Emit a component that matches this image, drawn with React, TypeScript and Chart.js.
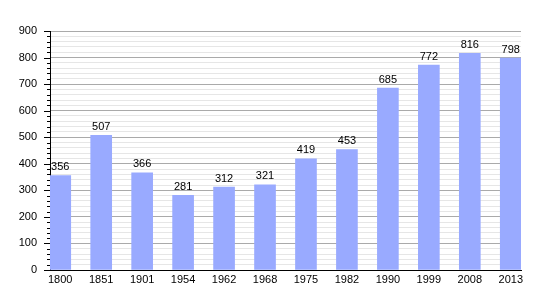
import React, { useEffect, useRef } from "react";
import { Chart, registerables } from "chart.js";

Chart.register(...registerables);

const years = ["1800", "1851", "1901", "1954", "1962", "1968", "1975", "1982", "1990", "1999", "2008", "2013"];
const population = [356, 507, 366, 281, 312, 321, 419, 453, 685, 772, 816, 798];
const yMax = 900;
const yMajorStep = 100;
const yMinorStep = 20;

const FONT = "'Liberation Sans', Arial, sans-serif";

const valueLabels = {
  id: "valueLabels",
  afterDatasetsDraw(chart: any) {
    const ctx = chart.ctx;
    const meta = chart.getDatasetMeta(0);
    ctx.save();
    ctx.font = `11px ${FONT}`;
    ctx.fillStyle = "#000";
    ctx.textAlign = "center";
    ctx.textBaseline = "bottom";
    meta.data.forEach((el: any, i: number) => {
      ctx.fillText(String(population[i]), el.x, el.y - 3);
    });
    ctx.restore();
  },
};

const yTickMarks = {
  id: "yTickMarks",
  afterDraw(chart: any) {
    const ctx = chart.ctx;
    const y = chart.scales.y;
    const left = chart.chartArea.left;
    ctx.save();
    ctx.strokeStyle = "#000";
    ctx.lineWidth = 1;
    for (let v = 0; v <= yMax; v += yMinorStep) {
      const py = Math.round(y.getPixelForValue(v)) + 0.5;
      const len = v % yMajorStep === 0 ? 6 : 3;
      ctx.beginPath();
      ctx.moveTo(left - len, py);
      ctx.lineTo(left, py);
      ctx.stroke();
    }
    ctx.restore();
  },
};

export default function App() {
  const ref = useRef<HTMLCanvasElement | null>(null);
  useEffect(() => {
    if (!ref.current) return;
    const chart = new Chart(ref.current, {
      type: "bar",
      data: {
        datasets: [
          {
            data: population.map((v, i) => ({ x: i, y: v })),
            backgroundColor: "rgb(153,170,255)",
            borderWidth: 0,
            barThickness: 21,
          },
        ],
      },
      options: {
        animation: false,
        responsive: true,
        maintainAspectRatio: false,
        layout: { padding: { left: 0, right: 29, top: 31, bottom: 0 } },
        plugins: { legend: { display: false }, tooltip: { enabled: false } },
        scales: {
          x: {
            type: "linear",
            offset: false,
            min: -0.25,
            max: 11.25,
            afterFit: (s: any) => {
              s.height = 30;
            },
            afterBuildTicks: (s: any) => {
              s.ticks = years.map((_, i) => ({ value: i }));
            },
            grid: { display: false, drawTicks: false, offset: false },
            border: { display: true, color: "#000", width: 1 },
            ticks: {
              autoSkip: false,
              maxRotation: 0,
              padding: 3,
              color: "#000",
              font: { family: FONT, size: 11 },
              callback: (v: any) => years[v] ?? "",
            },
          },
          y: {
            min: 0,
            max: yMax,
            afterFit: (s: any) => {
              s.width = 50;
            },
            grid: {
              drawTicks: false,
              color: (c: any) => (c.tick && c.tick.value % yMajorStep === 0 ? "#aaaaaa" : "#e6e6e6"),
            },
            border: { display: true, color: "#000", width: 1 },
            ticks: {
              stepSize: yMinorStep,
              autoSkip: false,
              padding: 13,
              color: "#000",
              font: { family: FONT, size: 11 },
              callback: (v: any) => (v % yMajorStep === 0 ? String(v) : ""),
            },
          },
        },
      },
      plugins: [valueLabels, yTickMarks],
    });
    return () => chart.destroy();
  }, []);
  return (
    <div style={{ position: "absolute", left: 0, top: 0, width: 550, height: 300, background: "#fff" }}>
      <canvas ref={ref} />
    </div>
  );
}
